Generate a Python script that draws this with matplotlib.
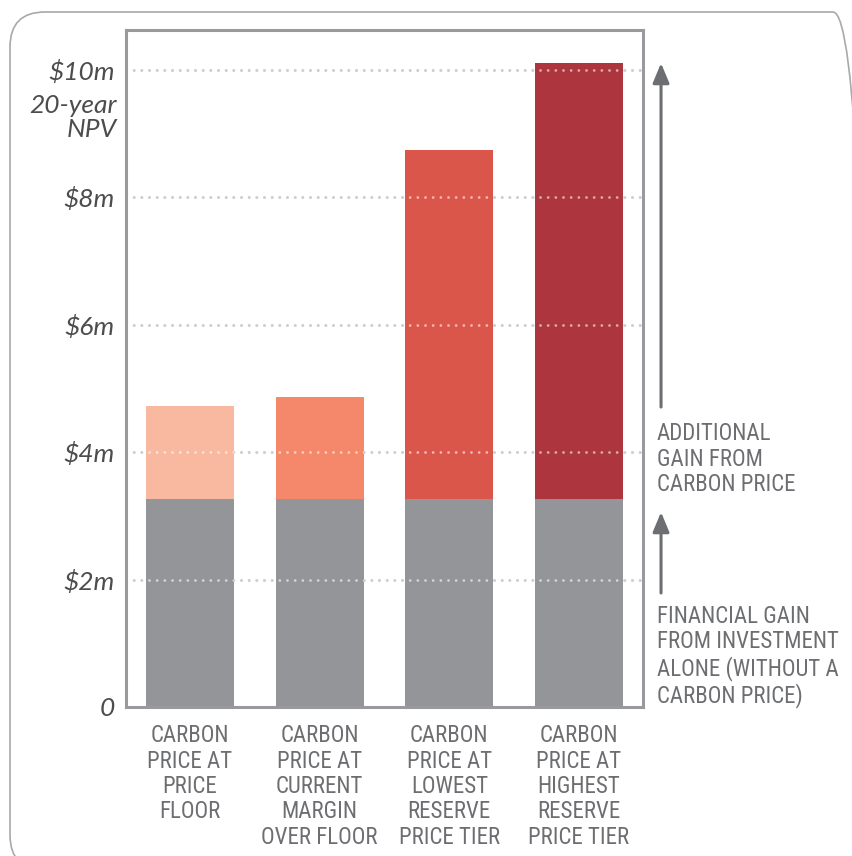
import matplotlib
matplotlib.use("Agg")
import matplotlib.pyplot as plt
from matplotlib import font_manager
from matplotlib.patches import FancyBboxPatch

# data ($m, 20-year NPV)
categories = ["CARBON\nPRICE AT\nPRICE\nFLOOR",
              "CARBON\nPRICE AT\nCURRENT\nMARGIN\nOVER FLOOR",
              "CARBON\nPRICE AT\nLOWEST\nRESERVE\nPRICE TIER",
              "CARBON\nPRICE AT\nHIGHEST\nRESERVE\nPRICE TIER"]
base_gain = [3.27, 3.27, 3.27, 3.27]
total_gain = [4.73, 4.87, 8.74, 10.11]
yticks = [0, 2, 4, 6, 8, 10]
ytick_labels = ["0", "$2m", "$4m", "$6m", "$8m", "$10m"]
top_colors = ["#f9b9a0", "#f5886a", "#da554a", "#ad353d"]
base_color = "#939598"
text_gray = "#6d6e71"

installed = {f.name for f in font_manager.fontManager.ttflist}
narrow = "DejaVu Sans"
for name in ["Liberation Sans Narrow", "Roboto Condensed", "DejaVu Sans Condensed", "Liberation Sans"]:
    if name in installed:
        narrow = name
        break

W, H = 853, 856
fig = plt.figure(figsize=(W / 100, H / 100), dpi=100)

# rounded frame around everything
frame = FancyBboxPatch((10 / W, 1 - 870 / H), 858 / W, 858 / H,
                       boxstyle="round,pad=0,rounding_size=0.041",
                       transform=fig.transFigure, fill=False,
                       edgecolor="#a7a9ac", linewidth=1.2, clip_on=False)
fig.patches.append(frame)

ax = fig.add_axes([126 / W, 1 - 707 / H, (643 - 126) / W, (707 - 30) / H])

x = list(range(len(categories)))
extra = [t - b for t, b in zip(total_gain, base_gain)]
ax.bar(x, base_gain, width=0.68, color=base_color, zorder=2)
ax.bar(x, extra, bottom=base_gain, width=0.68, color=top_colors, zorder=2)

# dotted grid, gray underneath and a pale overlay on top of the bars
for yv in yticks[1:]:
    ax.axhline(yv, color="#8f9093", lw=2.0, ls=(0, (0.01, 2.75)),
               dash_capstyle="round", zorder=1)
    ax.axhline(yv, color="white", alpha=0.6, lw=2.0, ls=(0, (0.01, 2.75)),
               dash_capstyle="round", zorder=3)

ax.set_xlim(-0.493, 3.493)
ax.set_ylim(0, 10.63)
for s in ax.spines.values():
    s.set_color("#999a9d")
    s.set_linewidth(2.2)
    s.set_zorder(4)

ax.set_xticks([])
ax.set_yticks(yticks)
ax.set_yticklabels(ytick_labels, fontfamily="Lato", fontstyle="italic",
                   fontsize=19, color="#4d4d4f")
ax.tick_params(axis="y", length=0, pad=8)

ax.text(-0.562, 10.0 - 0.37, "20-year\nNPV", ha="right", va="top",
        fontfamily="Lato", fontstyle="italic", fontsize=19, color="#4d4d4f",
        linespacing=1.08)

for xi, lab in zip(x, categories):
    ax.text(xi, -0.27, lab, ha="center", va="top", fontfamily=narrow,
            fontsize=16.5, color=text_gray, linespacing=1.13)

# arrows and notes on the right
arrow_x = 3.632
ax.annotate("", xy=(arrow_x, 10.11), xytext=(arrow_x, 4.71),
            arrowprops=dict(arrowstyle="-|>,head_length=0.6,head_width=0.25",
                            color=text_gray, lw=2.2, shrinkA=0, shrinkB=0,
                            mutation_scale=20),
            annotation_clip=False)
ax.annotate("", xy=(arrow_x, 3.06), xytext=(arrow_x, 1.79),
            arrowprops=dict(arrowstyle="-|>,head_length=0.6,head_width=0.25",
                            color=text_gray, lw=2.2, shrinkA=0, shrinkB=0,
                            mutation_scale=20),
            annotation_clip=False)

ax.text(3.60, 4.47, "ADDITIONAL\nGAIN FROM\nCARBON PRICE", ha="left", va="top",
        fontfamily=narrow, fontsize=16.5, color=text_gray, linespacing=1.13)
ax.text(3.60, 1.6, "FINANCIAL GAIN\nFROM INVESTMENT\nALONE (WITHOUT A\nCARBON PRICE)",
        ha="left", va="top", fontfamily=narrow, fontsize=16.5, color=text_gray,
        linespacing=1.13)

fig.savefig("out.png", dpi=100)
